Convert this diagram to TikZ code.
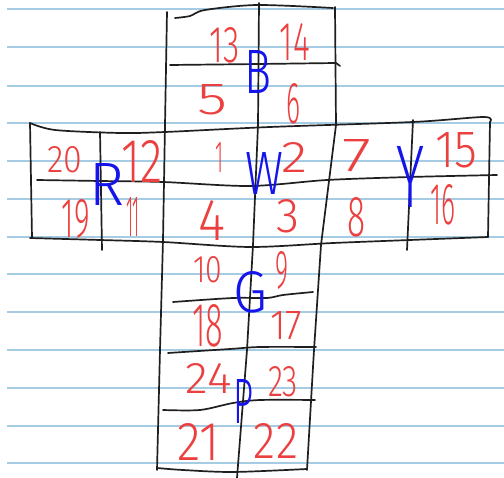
\documentclass[tikz,border=0pt]{standalone}
\usepackage{fontspec}
\usepackage{graphicx}
\newfontfamily\handfont{Fira Sans Light}
\newfontfamily\bluefont{Fira Sans Light}
\definecolor{paperline}{RGB}{166,204,228}
\definecolor{inkred}{RGB}{236,64,64}
\definecolor{inkblue}{RGB}{20,20,235}
\newcommand{\hwbox}[3]{\resizebox{#1pt}{#2pt}{#3}}
\tikzset{
  grid/.style={black!88, line width=1.7pt, line cap=round, line join=round},
  num/.style={inkred, font=\handfont, inner sep=0pt},
  face/.style={inkblue, font=\bluefont, inner sep=0pt},
  ruled/.style={paperline, line width=1.6pt}
}
\begin{document}
\begin{tikzpicture}[x=1pt,y=-1pt]
\useasboundingbox (0,0) rectangle (504,478);
\fill[white] (0,0) rectangle (504,478);
% ruled paper
\foreach \yy in {9,47,86,123,161,199,237,274,312,350,388,426,463}
  \draw[ruled] (7,\yy) -- (504,\yy);
% grid lines
\draw[grid] plot[smooth] coordinates {(175,18) (190,16) (205,10) (257,5) (333,8)};
\draw[grid] (167,12) -- (165,125) -- (163,240) -- (160,350) -- (157,470);
\draw[grid] (259,3) -- (258,125) -- (253,245) -- (247,350) -- (237,478);
\draw[grid] (335,7) -- (336,125) -- (321,245) -- (314,350) -- (307,470);
\draw[grid] (170,65) -- (260,64) -- (336,63) -- (340,66);
\draw[grid] plot[smooth] coordinates {(30,123) (55,130) (120,133) (165,132) (270,127) (413,122) (484,117) (490,122)} -- (488,237);
\draw[grid] plot[smooth] coordinates {(37,180) (100,181) (163,182) (250,186) (327,180) (410,177) (497,175)};
\draw[grid] plot[smooth] coordinates {(30,238) (100,240) (163,242) (250,247) (333,243) (410,240) (488,237)};
\draw[grid] (30,123) -- (32,238);
\draw[grid] (100,132) -- (101,190) -- (102,250);
\draw[grid] (413,120) -- (407,250);
\draw[grid] plot[smooth] coordinates {(173,302) (233,298) (267,298) (283,295) (313,292)};
\draw[grid] plot[smooth] coordinates {(168,353) (230,349) (260,347) (316,347)};
\draw[grid] plot[smooth] coordinates {(163,410) (200,410) (233,403) (260,400) (315,400)};
\draw[grid] plot[smooth] coordinates {(157,468) (183,470) (233,472) (307,469)};
% red numbers
\node[num] (n13) at (225,45) {\hwbox{30}{35}{13}};
\node[num] (n14) at (295,42) {\hwbox{30}{37}{14}};
\node[num] (n5) at (213,100) {\hwbox{30}{30}{5}};
\node[num] (n6) at (293,104) {\hwbox{14}{40}{6}};
\node[num] (n20) at (65,160) {\hwbox{35}{26}{20}};
\node[num] (n12) at (142,161) {\hwbox{41}{42}{12}};
\node[num] (n19) at (76,219) {\hwbox{28}{38}{19}};
\node[num] (n11) at (133,217) {\hwbox{14}{39}{11}};
\node[num] (n1) at (219,157) {\hwbox{8}{30}{1}};
\node[num] (n4) at (212,220) {\hwbox{27}{40}{4}};
\node[num] (n2) at (295,158) {\hwbox{26}{30}{2}};
\node[num] (n3) at (288,216) {\hwbox{23}{33}{3}};
\node[num] (n7) at (357,156) {\hwbox{29}{32}{7}};
\node[num] (n8) at (356,217) {\hwbox{18}{39}{8}};
\node[num] (n15) at (456,150) {\hwbox{42}{35}{15}};
\node[num] (n16) at (443,205) {\hwbox{25}{40}{16}};
\node[num] (n10) at (208,270) {\hwbox{29}{26}{10}};
\node[num] (n9) at (282,271) {\hwbox{13}{37}{9}};
\node[num] (n18) at (208,326) {\hwbox{31}{42}{18}};
\node[num] (n17) at (286,326) {\hwbox{32}{28}{17}};
\node[num] (n24) at (209,379) {\hwbox{46}{30}{24}};
\node[num] (n23) at (283,382) {\hwbox{30}{30}{23}};
\node[num] (n21) at (199,442) {\hwbox{42}{37}{21}};
\node[num] (n22) at (276,441) {\hwbox{44}{35}{22}};
% blue face letters
\node[face] (fB) at (258,72) {\hwbox{27}{43}{B}};
\node[face] (fR) at (107,184) {\hwbox{35}{42}{R}};
\node[face] (fW) at (265,173) {\hwbox{38}{42}{W}};
\node[face] (fY) at (411,177) {\hwbox{28}{61}{Y}};
\node[face] (fG) at (250,292) {\hwbox{34}{41}{G}};
\node[face] (fP) at (243,401) {\hwbox{20}{44}{P}};
\end{tikzpicture}
\end{document}
